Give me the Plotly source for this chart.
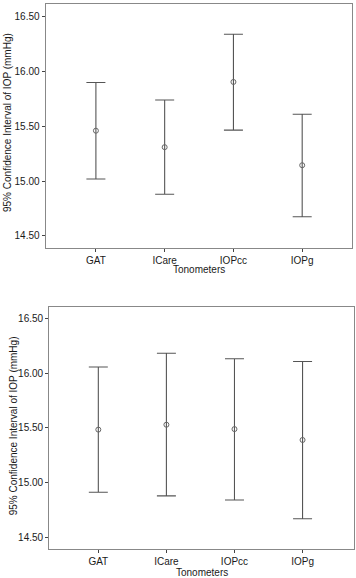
import plotly.graph_objects as go

categories = ["GAT", "ICare", "IOPcc", "IOPg"]

# Top panel
top_mean = [15.46, 15.31, 15.905, 15.145]
top_upper = [15.90, 15.74, 16.34, 15.61]
top_lower = [15.02, 14.88, 15.465, 14.675]

# Bottom panel
bot_mean = [15.485, 15.53, 15.49, 15.39]
bot_upper = [16.06, 16.185, 16.135, 16.11]
bot_lower = [14.91, 14.877, 14.84, 14.668]

y_ticks = [14.5, 15.0, 15.5, 16.0, 16.5]
y_ticktext = ["14.50", "15.00", "15.50", "16.00", "16.50"]

W, H = 356, 578
FONT = "Liberation Sans, Arial, sans-serif"
BAR = "#555555"
FRAME = "#888888"

fig = go.Figure()

def add_panel(mean, upper, lower, xa, ya):
    fig.add_trace(go.Scatter(
        x=categories, y=mean, mode="markers",
        xaxis=xa, yaxis=ya,
        marker=dict(symbol="circle-open", size=5, color="#666666", line=dict(width=1)),
        error_y=dict(type="data", symmetric=False,
                     array=[u - m for u, m in zip(upper, mean)],
                     arrayminus=[m - l for m, l in zip(mean, lower)],
                     color=BAR, thickness=1.1, width=9.5),
        showlegend=False, hoverinfo="skip"))

add_panel(top_mean, top_upper, top_lower, "x", "y")
add_panel(bot_mean, bot_upper, bot_lower, "x2", "y2")

def px_x(p):
    return p / W

def px_y(p):
    return 1 - p / H

axis_common = dict(showline=True, mirror=True, linecolor=FRAME, linewidth=1.3,
                   showgrid=False, zeroline=False, ticks="outside", ticklen=3,
                   tickcolor="#444444", tickwidth=1,
                   tickfont=dict(family=FONT, size=10, color="#1a1a1a"))

fig.update_layout(
    width=W, height=H,
    margin=dict(l=0, r=0, t=0, b=0),
    paper_bgcolor="white", plot_bgcolor="white",
    xaxis=dict(domain=[px_x(45.7), px_x(351.7)], anchor="y",
               type="category", range=[-0.73, 3.72], **axis_common),
    yaxis=dict(domain=[px_y(248), px_y(4)], anchor="x",
               range=[14.39, 16.616], tickvals=y_ticks, ticktext=y_ticktext,
               **axis_common),
    xaxis2=dict(domain=[px_x(49.3), px_x(354.3)], anchor="y2",
                type="category", range=[-0.72, 3.76], **axis_common),
    yaxis2=dict(domain=[px_y(549), px_y(307.3)], anchor="x2",
                range=[14.39, 16.607], tickvals=y_ticks, ticktext=y_ticktext,
                **axis_common),
)

ann_font = dict(family=FONT, size=10, color="#1a1a1a")
fig.add_annotation(text="Tonometers", x=px_x(198.7), y=px_y(269), xref="paper", yref="paper",
                   showarrow=False, font=ann_font, xanchor="center", yanchor="middle")
fig.add_annotation(text="Tonometers", x=px_x(201.8), y=px_y(572.5), xref="paper", yref="paper",
                   showarrow=False, font=ann_font, xanchor="center", yanchor="middle")
fig.add_annotation(text="95% Confidence Interval of IOP (mmHg)", x=px_x(7), y=px_y(123),
                   xref="paper", yref="paper", showarrow=False, font=ann_font,
                   textangle=-90, xanchor="center", yanchor="middle")
fig.add_annotation(text="95% Confidence Interval of IOP (mmHg)", x=px_x(13.3), y=px_y(426),
                   xref="paper", yref="paper", showarrow=False, font=ann_font,
                   textangle=-90, xanchor="center", yanchor="middle")

fig.write_html("out.html", config={"displayModeBar": False},
               post_script="document.body.style.margin='0';document.body.style.overflow='hidden';")
